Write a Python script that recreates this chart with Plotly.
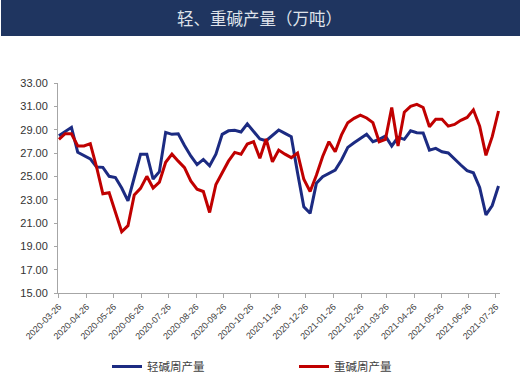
import plotly.graph_objects as go
import pandas as pd

dates = pd.date_range("2020-03-26", periods=71, freq="7D").strftime("%Y-%m-%d").tolist()

light_soda = [
    28.48, 28.82, 29.2, 27.06, 26.8, 26.5, 25.8, 25.77, 25.0, 24.9,
    24.0, 22.9, 24.9, 26.9, 26.9, 24.77, 25.4, 28.77, 28.6, 28.65,
    27.65, 26.75, 26.0, 26.45, 25.9, 26.9, 28.6, 28.9, 28.95, 28.8,
    29.5, 28.8, 28.2, 28.05, 28.54, 28.97, 28.68, 28.4, 25.3, 22.4,
    21.83, 24.4, 24.97, 25.26, 25.54, 26.4, 27.48, 27.88, 28.25, 28.6,
    27.97, 28.17, 28.45, 27.6, 28.34, 28.17, 28.9, 28.74, 28.72, 27.25,
    27.4, 27.1, 27.0, 26.45, 25.97, 25.48, 25.3, 24.05, 21.7, 22.5,
    24.17,
]

dense_soda = [
    28.17, 28.65, 28.65, 27.6, 27.6, 27.8, 25.8, 23.5, 23.6, 22.0,
    20.25, 20.77, 23.4, 23.97, 25.0, 24.0, 24.5, 26.2, 26.9, 26.3,
    25.75, 24.6, 23.9, 23.7, 21.9, 24.3, 25.3, 26.3, 27.05, 26.9,
    27.77, 27.97, 26.55, 28.2, 26.25, 27.25, 26.9, 26.6, 27.0, 24.75,
    23.7, 25.1, 26.7, 27.97, 27.1, 28.55, 29.6, 29.97, 30.25, 30.0,
    29.6, 27.97, 28.17, 30.9, 27.6, 30.5, 31.0, 31.17, 30.9, 29.25,
    29.9, 29.9, 29.3, 29.45, 29.8, 30.05, 30.7, 29.3, 26.8, 28.4,
    30.6,
]

tick_dates = [f"{2020 + (2 + i) // 12}-{(2 + i) % 12 + 1:02d}-26" for i in range(17)]

title_text = "轻、重碱产量（万吨）"
names = ["轻碱周产量", "重碱周产量"]
colors = ["#1c2b82", "#c00000"]

fig = go.Figure()
fig.add_trace(go.Scatter(x=dates, y=light_soda, mode="lines", name=names[0],
                         line=dict(color=colors[0], width=3)))
fig.add_trace(go.Scatter(x=dates, y=dense_soda, mode="lines", name=names[1],
                         line=dict(color=colors[1], width=3)))

W, H = 523, 385
L, R, T, B = 58, 23, 83, 92
pw, ph = W - L - R, H - T - B

def px_x(p):
    return (p - L) / pw

def px_y(p):
    return (H - B - p) / ph

fig.add_shape(type="rect", xref="paper", yref="paper",
              x0=px_x(1), x1=px_x(520), y0=px_y(36), y1=px_y(0),
              fillcolor="#1f3560", line=dict(width=0), layer="below")

fig.add_annotation(text=title_text, xref="paper", yref="paper",
                   x=px_x(259), y=px_y(18), xanchor="center", yanchor="middle",
                   showarrow=False,
                   font=dict(family="Noto Sans CJK SC", size=16.5, color="#dfe3ea"))

fig.update_layout(
    width=W, height=H,
    margin=dict(l=L, r=R, t=T, b=B, autoexpand=False),
    paper_bgcolor="white", plot_bgcolor="white",
    showlegend=True,
    legend=dict(orientation="h", x=px_x(107), y=px_y(352), xanchor="left", yanchor="top",
                entrywidth=142, entrywidthmode="pixels",
                font=dict(family="Noto Sans CJK SC", size=11.5, color="#404040"),
                bgcolor="rgba(0,0,0,0)"),
    font=dict(family="Liberation Sans", color="#333333"),
)

fig.update_xaxes(
    type="date", range=["2020-03-25", "2021-07-30 16:00"],
    tickmode="array", tickvals=tick_dates, ticktext=tick_dates,
    tickangle=-45, tickfont=dict(size=9, color="#404040"),
    showline=True, linecolor="#a6a6a6", linewidth=1,
    ticks="outside", ticklen=4, tickcolor="#a6a6a6",
    showgrid=False, zeroline=False, automargin=False,
)
fig.update_yaxes(
    range=[15, 33], dtick=2, tick0=15, tickformat=".2f",
    tickfont=dict(size=11, color="#333333"),
    showline=True, linecolor="#a6a6a6", linewidth=1,
    ticks="outside", ticklen=3, tickcolor="#a6a6a6", ticklabelstandoff=4,
    showgrid=False, zeroline=False, automargin=False,
)

fig.write_html("out.html", config={"displayModeBar": False},
               post_script="document.body.style.margin='0';")
